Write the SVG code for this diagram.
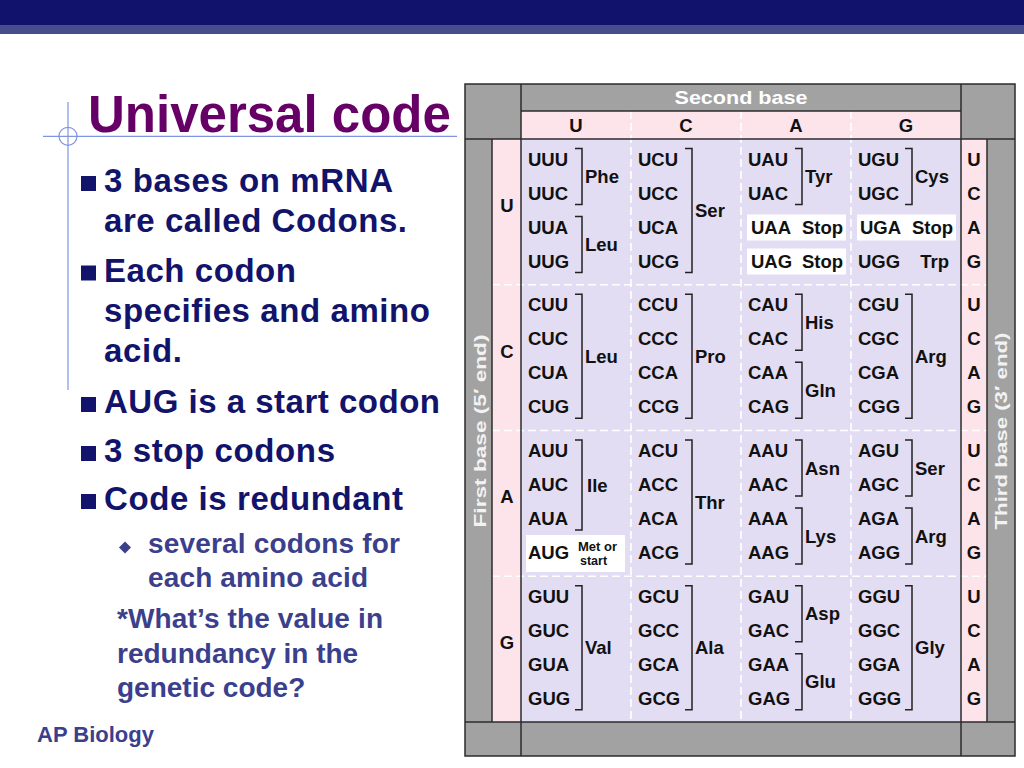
<svg xmlns="http://www.w3.org/2000/svg" width="1024" height="768" viewBox="0 0 1024 768">
<style>
text{font-family:"Liberation Sans",Arial,Helvetica,sans-serif;font-weight:bold}
.body{font-size:33px;fill:#12136a}
.sub{font-size:28px;fill:#3b3f8c}
.cod{font-size:18.5px;fill:#111}
.aa{font-size:18.5px;fill:#111}
.hd{font-size:18.5px;fill:#111;text-anchor:middle}
.side{font-size:17px;fill:#f2f2f2;text-anchor:middle}
.gray{fill:#a2a2a2}
.pink{fill:#fde3ea}
.lav{fill:#e3ddf3}
.grid{stroke:#2b2b2b;stroke-width:1.5;fill:none}
.dash{stroke:#ffffff;stroke-width:1.6;stroke-dasharray:8 4;fill:none}
.br{stroke:#222;stroke-width:1.5;fill:none}
.box{fill:#ffffff}
.cross{stroke:#8194e2;stroke-width:1.2;fill:none}
.sq{fill:#12136a}
</style>
<rect width="1024" height="768" fill="#ffffff"/>
<g id="topbar">
<rect x="0" y="0" width="1024" height="25" fill="#10126b"/>
<rect x="0" y="25" width="1024" height="9" fill="#474c8d"/>
</g>
<g id="crosshair">
<line class="cross" x1="43" y1="136.3" x2="457" y2="136.3"/>
<line class="cross" x1="68" y1="102" x2="68" y2="390"/>
<circle class="cross" cx="68" cy="136.3" r="9"/>
</g>
<g id="title">
<text x="88" y="131.5" style="font-size:51px;fill:#660066">Universal code</text>
</g>
<g id="bullets">
<rect class="sq" x="81" y="176" width="15" height="15"/>
<text class="body" x="104" y="191.7" textLength="289" lengthAdjust="spacing">3 bases on mRNA</text>
<text class="body" x="104" y="231.7" textLength="303" lengthAdjust="spacing">are called Codons.</text>
<rect class="sq" x="81" y="265.5" width="15" height="15"/>
<text class="body" x="104" y="281.5" textLength="192" lengthAdjust="spacing">Each codon</text>
<text class="body" x="104" y="321.7" textLength="326" lengthAdjust="spacing">specifies and amino</text>
<text class="body" x="104" y="361.7" textLength="78" lengthAdjust="spacing">acid.</text>
<rect class="sq" x="81" y="397" width="15" height="15"/>
<text class="body" x="104" y="413" textLength="336" lengthAdjust="spacing">AUG is a start codon</text>
<rect class="sq" x="81" y="446" width="15" height="15"/>
<text class="body" x="104" y="462" textLength="231" lengthAdjust="spacing">3 stop codons</text>
<rect class="sq" x="81" y="494" width="15" height="15"/>
<text class="body" x="104" y="510" textLength="299" lengthAdjust="spacing">Code is redundant</text>
<polygon points="125,541.5 131,547.5 125,553.5 119,547.5" fill="#3b3f8c"/>
<text class="sub" x="148" y="553" textLength="252" lengthAdjust="spacing">several codons for</text>
<text class="sub" x="148" y="587" textLength="220" lengthAdjust="spacing">each amino acid</text>
<text class="sub" x="117" y="628" textLength="266" lengthAdjust="spacing">*What’s the value in</text>
<text class="sub" x="117" y="662.7">redundancy in the</text>
<text class="sub" x="117" y="696.7">genetic code?</text>
</g>
<g id="footer">
<text x="37" y="741.7" style="font-size:22px;fill:#3b3f8c">AP Biology</text>
</g>
<g id="table">
<g id="table-bg">
<rect class="gray" x="465" y="84" width="550" height="672"/>
<rect class="pink" x="521" y="111" width="440" height="28"/>
<rect class="pink" x="492" y="139" width="29" height="583"/>
<rect class="pink" x="961" y="139" width="26" height="583"/>
<rect class="lav" x="521" y="139" width="440" height="583"/>
</g>
<g id="dashes">
<line class="dash" x1="492" y1="284.75" x2="987" y2="284.75"/>
<line class="dash" x1="492" y1="430.5" x2="987" y2="430.5"/>
<line class="dash" x1="492" y1="576.25" x2="987" y2="576.25"/>
<line class="dash" x1="631" y1="111" x2="631" y2="722"/>
<line class="dash" x1="741" y1="111" x2="741" y2="722"/>
<line class="dash" x1="851" y1="111" x2="851" y2="722"/>
</g>
<g id="gridlines">
<rect class="grid" x="465" y="84" width="550" height="672"/>
<line class="grid" x1="521" y1="84" x2="521" y2="756"/>
<line class="grid" x1="961" y1="84" x2="961" y2="756"/>
<line class="grid" x1="521" y1="111" x2="961" y2="111"/>
<line class="grid" x1="465" y1="139" x2="1015" y2="139"/>
<line class="grid" x1="465" y1="722" x2="1015" y2="722"/>
<line class="grid" x1="492" y1="139" x2="492" y2="722"/>
<line class="grid" x1="987" y1="139" x2="987" y2="722"/>
</g>
<g id="headers">
<text x="741" y="104" text-anchor="middle" textLength="133" lengthAdjust="spacingAndGlyphs" style="font-size:19px;fill:#ffffff">Second base</text>
<text class="hd" x="576" y="132">U</text>
<text class="hd" x="686" y="132">C</text>
<text class="hd" x="796" y="132">A</text>
<text class="hd" x="906" y="132">G</text>
<text class="side" x="486" y="431" transform="rotate(-90 486 431)" textLength="193" lengthAdjust="spacingAndGlyphs">First base  (5′ end)</text>
<text class="side" x="1007" y="431" transform="rotate(-90 1007 431)" textLength="197" lengthAdjust="spacingAndGlyphs">Third base  (3′ end)</text>
<text class="hd" x="507" y="212">U</text>
<text class="hd" x="507" y="358">C</text>
<text class="hd" x="507" y="503">A</text>
<text class="hd" x="507" y="649">G</text>
<text class="hd" x="974" y="165.5">U</text>
<text class="hd" x="974" y="199.5">C</text>
<text class="hd" x="974" y="233.5">A</text>
<text class="hd" x="974" y="267.5">G</text>
<text class="hd" x="974" y="311.25">U</text>
<text class="hd" x="974" y="345.25">C</text>
<text class="hd" x="974" y="379.25">A</text>
<text class="hd" x="974" y="413.25">G</text>
<text class="hd" x="974" y="457">U</text>
<text class="hd" x="974" y="491">C</text>
<text class="hd" x="974" y="525">A</text>
<text class="hd" x="974" y="559">G</text>
<text class="hd" x="974" y="602.75">U</text>
<text class="hd" x="974" y="636.75">C</text>
<text class="hd" x="974" y="670.75">A</text>
<text class="hd" x="974" y="704.75">G</text>
</g>
<g id="boxes">
<rect class="box" x="747" y="214.5" width="99" height="26"/>
<rect class="box" x="857" y="214.5" width="99" height="26"/>
<rect class="box" x="747" y="248.5" width="99" height="26"/>
<rect class="box" x="526" y="535" width="99" height="37"/>
</g>
<g id="block-U">
<text class="cod" x="528" y="165.5">UUU</text>
<text class="cod" x="528" y="199.5">UUC</text>
<text class="cod" x="528" y="233.5">UUA</text>
<text class="cod" x="528" y="267.5">UUG</text>
<text class="aa" x="585" y="183">Phe</text>
<text class="aa" x="585" y="251">Leu</text>
<text class="cod" x="638" y="165.5">UCU</text>
<text class="cod" x="638" y="199.5">UCC</text>
<text class="cod" x="638" y="233.5">UCA</text>
<text class="cod" x="638" y="267.5">UCG</text>
<text class="aa" x="695" y="217">Ser</text>
<text class="cod" x="748" y="165.5">UAU</text>
<text class="cod" x="748" y="199.5">UAC</text>
<text class="cod" x="751" y="233.5">UAA</text>
<text class="cod" x="751" y="267.5">UAG</text>
<text class="aa" x="805" y="183">Tyr</text>
<text class="aa" x="843" y="233.5" text-anchor="end">Stop</text>
<text class="aa" x="843" y="267.5" text-anchor="end">Stop</text>
<text class="cod" x="858" y="165.5">UGU</text>
<text class="cod" x="858" y="199.5">UGC</text>
<text class="cod" x="860" y="233.5">UGA</text>
<text class="cod" x="858" y="267.5">UGG</text>
<text class="aa" x="915" y="183">Cys</text>
<text class="aa" x="953" y="233.5" text-anchor="end">Stop</text>
<text class="aa" x="949" y="267.5" text-anchor="end">Trp</text>
</g>
<g id="block-C">
<text class="cod" x="528" y="311.25">CUU</text>
<text class="cod" x="528" y="345.25">CUC</text>
<text class="cod" x="528" y="379.25">CUA</text>
<text class="cod" x="528" y="413.25">CUG</text>
<text class="aa" x="585" y="362.75">Leu</text>
<text class="cod" x="638" y="311.25">CCU</text>
<text class="cod" x="638" y="345.25">CCC</text>
<text class="cod" x="638" y="379.25">CCA</text>
<text class="cod" x="638" y="413.25">CCG</text>
<text class="aa" x="695" y="362.75">Pro</text>
<text class="cod" x="748" y="311.25">CAU</text>
<text class="cod" x="748" y="345.25">CAC</text>
<text class="cod" x="748" y="379.25">CAA</text>
<text class="cod" x="748" y="413.25">CAG</text>
<text class="aa" x="805" y="328.75">His</text>
<text class="aa" x="805" y="396.75">Gln</text>
<text class="cod" x="858" y="311.25">CGU</text>
<text class="cod" x="858" y="345.25">CGC</text>
<text class="cod" x="858" y="379.25">CGA</text>
<text class="cod" x="858" y="413.25">CGG</text>
<text class="aa" x="915" y="362.75">Arg</text>
</g>
<g id="block-A">
<text class="cod" x="528" y="457">AUU</text>
<text class="cod" x="528" y="491">AUC</text>
<text class="cod" x="528" y="525">AUA</text>
<text class="cod" x="528" y="559">AUG</text>
<text class="aa" x="587" y="491.5">Ile</text>
<text x="578" y="551" style="font-size:13px;fill:#111">Met or</text>
<text x="580" y="565" style="font-size:12.5px;fill:#111">start</text>
<text class="cod" x="638" y="457">ACU</text>
<text class="cod" x="638" y="491">ACC</text>
<text class="cod" x="638" y="525">ACA</text>
<text class="cod" x="638" y="559">ACG</text>
<text class="aa" x="695" y="508.5">Thr</text>
<text class="cod" x="748" y="457">AAU</text>
<text class="cod" x="748" y="491">AAC</text>
<text class="cod" x="748" y="525">AAA</text>
<text class="cod" x="748" y="559">AAG</text>
<text class="aa" x="805" y="474.5">Asn</text>
<text class="aa" x="805" y="542.5">Lys</text>
<text class="cod" x="858" y="457">AGU</text>
<text class="cod" x="858" y="491">AGC</text>
<text class="cod" x="858" y="525">AGA</text>
<text class="cod" x="858" y="559">AGG</text>
<text class="aa" x="915" y="474.5">Ser</text>
<text class="aa" x="915" y="542.5">Arg</text>
</g>
<g id="block-G">
<text class="cod" x="528" y="602.75">GUU</text>
<text class="cod" x="528" y="636.75">GUC</text>
<text class="cod" x="528" y="670.75">GUA</text>
<text class="cod" x="528" y="704.75">GUG</text>
<text class="aa" x="585" y="654.25">Val</text>
<text class="cod" x="638" y="602.75">GCU</text>
<text class="cod" x="638" y="636.75">GCC</text>
<text class="cod" x="638" y="670.75">GCA</text>
<text class="cod" x="638" y="704.75">GCG</text>
<text class="aa" x="695" y="654.25">Ala</text>
<text class="cod" x="748" y="602.75">GAU</text>
<text class="cod" x="748" y="636.75">GAC</text>
<text class="cod" x="748" y="670.75">GAA</text>
<text class="cod" x="748" y="704.75">GAG</text>
<text class="aa" x="805" y="620.25">Asp</text>
<text class="aa" x="805" y="688.25">Glu</text>
<text class="cod" x="858" y="602.75">GGU</text>
<text class="cod" x="858" y="636.75">GGC</text>
<text class="cod" x="858" y="670.75">GGA</text>
<text class="cod" x="858" y="704.75">GGG</text>
<text class="aa" x="915" y="654.25">Gly</text>
</g>
<g id="connectors">
<path class="br" d="M575 148.5H582V204.5H575"/>
<path class="br" d="M575 216.5H582V272.5H575"/>
<path class="br" d="M685 148.5H692V272.5H685"/>
<path class="br" d="M795 148.5H802V204.5H795"/>
<path class="br" d="M905 148.5H912V204.5H905"/>
<path class="br" d="M575 294.25H582V418.25H575"/>
<path class="br" d="M685 294.25H692V418.25H685"/>
<path class="br" d="M795 294.25H802V350.25H795"/>
<path class="br" d="M795 362.25H802V418.25H795"/>
<path class="br" d="M905 294.25H912V418.25H905"/>
<path class="br" d="M575 440H582V530H575"/>
<path class="br" d="M685 440H692V564H685"/>
<path class="br" d="M795 440H802V496H795"/>
<path class="br" d="M795 508H802V564H795"/>
<path class="br" d="M905 440H912V496H905"/>
<path class="br" d="M905 508H912V564H905"/>
<path class="br" d="M575 585.75H582V709.75H575"/>
<path class="br" d="M685 585.75H692V709.75H685"/>
<path class="br" d="M795 585.75H802V641.75H795"/>
<path class="br" d="M795 653.75H802V709.75H795"/>
<path class="br" d="M905 585.75H912V709.75H905"/>
</g>
</g>
</svg>
